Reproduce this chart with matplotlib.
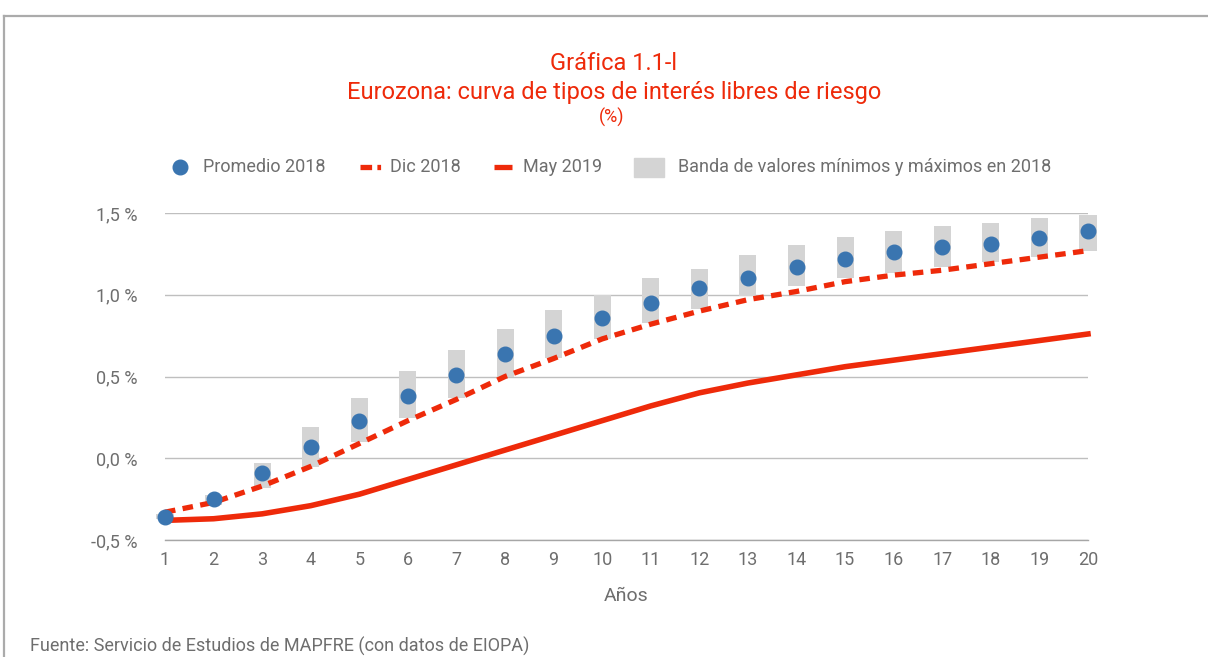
import numpy as np
import matplotlib
matplotlib.use("Agg")
import matplotlib.pyplot as plt
from matplotlib.lines import Line2D
from matplotlib.patches import Rectangle

plt.rcParams['font.family'] = ['Roboto', 'DejaVu Sans']

# Data (%)
years = list(range(1, 21))
promedio_2018 = [-0.36, -0.25, -0.09, 0.07, 0.23, 0.38, 0.51, 0.64, 0.75, 0.86,
                 0.95, 1.04, 1.10, 1.17, 1.22, 1.26, 1.29, 1.31, 1.35, 1.39]
dic_2018 = [-0.33, -0.27, -0.17, -0.05, 0.09, 0.23, 0.36, 0.50, 0.61, 0.73,
            0.82, 0.90, 0.97, 1.02, 1.08, 1.12, 1.15, 1.19, 1.23, 1.27]
may_2019 = [-0.38, -0.37, -0.34, -0.29, -0.22, -0.13, -0.04, 0.05, 0.14, 0.23,
            0.32, 0.40, 0.46, 0.51, 0.56, 0.60, 0.64, 0.68, 0.72, 0.76]
banda_min = [-0.37, -0.285, -0.18, -0.055, 0.10, 0.245, 0.37, 0.50, 0.615, 0.73,
             0.83, 0.91, 0.99, 1.055, 1.10, 1.135, 1.17, 1.20, 1.23, 1.265]
banda_max = [-0.34, -0.225, -0.03, 0.19, 0.37, 0.535, 0.66, 0.79, 0.905, 1.00,
             1.10, 1.16, 1.245, 1.305, 1.355, 1.39, 1.42, 1.44, 1.47, 1.49]
yticks = [-0.5, 0.0, 0.5, 1.0, 1.5]
ytick_labels = ["-0,5 %", "0,0 %", "0,5 %", "1,0 %", "1,5 %"]

red = '#ee2a0a'
blue = '#3a75b0'
band_col = '#d4d4d4'
grey_txt = '#6e6e6e'

W, H = 1208, 657
fig = plt.figure(figsize=(W / 100, H / 100), dpi=100)
ax = fig.add_axes([165 / W, 1 - 540 / H, (1088 - 165) / W, (540 - 213) / H])

# min/max band
ax.bar(years, np.array(banda_max) - np.array(banda_min), bottom=banda_min,
       width=0.35, color=band_col, zorder=1, clip_on=False)
ax.plot(years, dic_2018, color=red, lw=3.8, dashes=(2.0, 1.4), zorder=3,
        solid_capstyle='butt', clip_on=False)
ax.plot(years, may_2019, color=red, lw=4, zorder=3, clip_on=False)
ax.plot(years, promedio_2018, 'o', color=blue, ms=10.5, zorder=4, clip_on=False)

ax.set_xlim(1, 20)
ax.set_ylim(-0.5, 1.5)
ax.set_xticks(years)
ax.set_yticks(yticks)
ax.set_yticklabels(ytick_labels)
ax.tick_params(axis='both', length=0, labelsize=13, colors=grey_txt)
ax.tick_params(axis='y', pad=20)
ax.tick_params(axis='x', pad=8)
for s in ['top', 'right', 'left']:
    ax.spines[s].set_visible(False)
ax.spines['bottom'].set_color('#a6a6a6')
ax.spines['bottom'].set_linestyle((0, (1, 1)))
ax.spines['bottom'].set_linewidth(1)
ax.grid(axis='y', color='#bfbfbf', lw=1)
ax.set_axisbelow(True)
ax.set_xlabel("Años", fontsize=14, color=grey_txt, labelpad=13)

# titles
fig.text(614 / W, 1 - 64 / H, "Gráfica 1.1-l", ha='center', va='center',
         fontsize=17, color=red)
fig.text(614 / W, 1 - 92 / H, "Eurozona: curva de tipos de interés libres de riesgo",
         ha='center', va='center', fontsize=17, color=red)
fig.text(612 / W, 1 - 117 / H, "(%)", ha='center', va='center',
         fontsize=13, color=red)

# legend, drawn by hand in pixel positions of the reference
ly = 1 - 167 / H
fig.add_artist(Line2D([180 / W], [ly], ls='none', marker='o', ms=10.5, color=blue,
                      transform=fig.transFigure))
fig.add_artist(Line2D([360 / W, 381 / W], [ly, ly], color=red, lw=3.8,
                      dashes=(2.2, 1.0, 0.7, 5), transform=fig.transFigure))
fig.add_artist(Line2D([494 / W, 512 / W], [ly, ly], color=red, lw=3.8,
                      solid_capstyle='butt', transform=fig.transFigure))
fig.add_artist(Rectangle((634 / W, 1 - 177 / H), 30 / W, 19 / H, color=band_col,
                         transform=fig.transFigure))
leg_labels = ["Promedio 2018", "Dic 2018", "May 2019",
              "Banda de valores mínimos y máximos en 2018"]
leg_x = [203, 390, 523, 678]
for lx, lab in zip(leg_x, leg_labels):
    fig.text(lx / W, ly, lab, ha='left', va='center', fontsize=13, color=grey_txt)

fig.text(30 / W, 1 - 646 / H, "Fuente: Servicio de Estudios de MAPFRE (con datos de EIOPA)",
         ha='left', va='center', fontsize=13, color=grey_txt)

# frame lines (top and left)
fig.add_artist(Line2D([3.5 / W, 1], [1 - 15.5 / H, 1 - 15.5 / H], color='#ababab',
                      lw=1.6, transform=fig.transFigure))
fig.add_artist(Line2D([3.5 / W, 3.5 / W], [0, 1 - 15.5 / H], color='#ababab',
                      lw=1.6, transform=fig.transFigure))

fig.savefig("out.png", dpi=100)
